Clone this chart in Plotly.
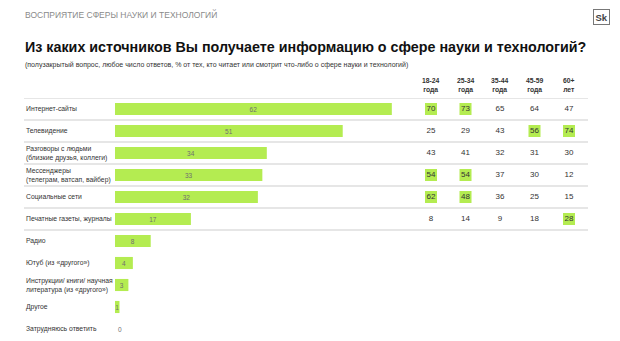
import plotly.graph_objects as go

# ---- data ----
sources = [
    "Интернет-сайты",
    "Телевидение",
    "Разговоры с людьми<br>(близкие друзья, коллеги)",
    "Мессенджеры<br>(телеграм, ватсап, вайбер)",
    "Социальные сети",
    "Печатные газеты, журналы",
    "Радио",
    "Ютуб (из «другого»)",
    "Инструкции/ книги/ научная<br>литература (из «другого»)",
    "Другое",
    "Затрудняюсь ответить",
]
totals = [62, 51, 34, 33, 32, 17, 8, 4, 3, 1, 0]

age_groups = ["18-24<br>года", "25-34<br>года", "35-44<br>года", "45-59<br>года", "60+<br>лет"]
table_rows = sources[:6]
age_values = [
    [70, 73, 65, 64, 47],
    [25, 29, 43, 56, 74],
    [43, 41, 32, 31, 30],
    [54, 54, 37, 30, 12],
    [62, 48, 36, 25, 15],
    [8, 14, 9, 18, 28],
]
highlight = [
    [1, 1, 0, 0, 0],
    [0, 0, 0, 1, 1],
    [0, 0, 0, 0, 0],
    [1, 1, 0, 0, 0],
    [1, 1, 0, 0, 0],
    [0, 0, 0, 0, 1],
]

section_title = "ВОСПРИЯТИЕ СФЕРЫ НАУКИ И ТЕХНОЛОГИЙ"
title = "Из каких источников Вы получаете информацию о сфере науки и технологий?"
subtitle = "(полузакрытый вопрос, любое число ответов, % от тех, кто читает или смотрит что-либо о сфере науки и технологий)"

# ---- style ----
W, H = 620, 341
GREEN = "#b4ec51"
FONT = "Liberation Sans, Arial, Helvetica, sans-serif"
TXT = "#333333"

fig = go.Figure()

fig.add_trace(go.Bar(
    x=totals, y=sources, orientation="h",
    marker=dict(color=GREEN, line=dict(width=0)),
    width=0.55,
    text=[str(v) for v in totals],
    textposition=["inside" if v > 0 else "outside" for v in totals],
    insidetextanchor="middle",
    textangle=0,
    textfont=dict(size=6.5, color="#6f6f6f", family=FONT),
    cliponaxis=False,
    hoverinfo="skip",
    xaxis="x", yaxis="y",
))

# table: highlighted squares
hx, hy = [], []
tx, ty, tt = [], [], []
for r, row in enumerate(age_values):
    for c, v in enumerate(row):
        tx.append(age_groups[c]); ty.append(table_rows[r]); tt.append(str(v))
        if highlight[r][c]:
            hx.append(age_groups[c]); hy.append(table_rows[r])

fig.add_trace(go.Scatter(
    x=hx, y=hy, mode="markers",
    marker=dict(symbol="square", size=12, color=GREEN, line=dict(width=0)),
    hoverinfo="skip", xaxis="x2", yaxis="y",
))
fig.add_trace(go.Scatter(
    x=tx, y=ty, mode="text", text=tt,
    textfont=dict(size=8, color=TXT, family=FONT),
    hoverinfo="skip", xaxis="x2", yaxis="y", cliponaxis=False,
))

ann = []
# row labels
for s in sources:
    ann.append(dict(text=s, x=24 / W, xref="paper", xanchor="left", align="left",
                    y=s, yref="y", yanchor="middle", showarrow=False,
                    font=dict(size=6.8, color=TXT, family=FONT)))
# column headers
for g in age_groups:
    ann.append(dict(text="<b>" + g + "</b>", x=g, xref="x2", xanchor="center", align="center",
                    y=1 - 85 / H, yref="paper", yanchor="middle", showarrow=False,
                    font=dict(size=6.8, color=TXT, family=FONT)))
# header texts
ann.append(dict(text=section_title, x=23 / W, xref="paper", xanchor="left",
                y=1 - 15 / H, yref="paper", yanchor="middle", showarrow=False,
                font=dict(size=8.5, color="#8a8a8a", family=FONT)))
ann.append(dict(text="<b>" + title + "</b>", x=23 / W, xref="paper", xanchor="left",
                y=1 - 47 / H, yref="paper", yanchor="middle", showarrow=False,
                font=dict(size=14.3, color="#111111", family=FONT)))
ann.append(dict(text=subtitle, x=23 / W, xref="paper", xanchor="left",
                y=1 - 65 / H, yref="paper", yanchor="middle", showarrow=False,
                font=dict(size=7.0, color=TXT, family=FONT)))
# logo
ann.append(dict(text="<b>Sk</b>", x=601.5 / W, xref="paper", xanchor="center",
                y=1 - 17 / H, yref="paper", yanchor="middle", showarrow=False,
                bordercolor="#777777", borderwidth=1, borderpad=1.5,
                font=dict(size=9.5, color="#444444", family=FONT)))

shapes = []
for i in range(7):
    shapes.append(dict(type="line", xref="paper", yref="y",
                       x0=24 / W, x1=588 / W, y0=i - 0.5, y1=i - 0.5,
                       line=dict(color="#dedede", width=1.5), layer="below"))

fig.update_layout(
    width=W, height=H,
    margin=dict(l=0, r=0, t=0, b=0),
    paper_bgcolor="white", plot_bgcolor="white",
    showlegend=False,
    font=dict(family=FONT),
    uniformtext=dict(minsize=6.5, mode="show"),
    xaxis=dict(domain=[115 / W, 412 / W], range=[0, 297 / 4.465],
               visible=False, fixedrange=True),
    xaxis2=dict(domain=[413.75 / W, 586.25 / W], type="category",
                categoryorder="array", categoryarray=age_groups,
                range=[-0.5, 4.5], visible=False, fixedrange=True),
    yaxis=dict(domain=[1 - 340 / H, 1 - 98 / H], type="category",
               categoryorder="array", categoryarray=sources,
               range=[10.5, -0.5], visible=False, fixedrange=True),
    annotations=ann,
    shapes=shapes,
)

fig.write_html("out.html")
